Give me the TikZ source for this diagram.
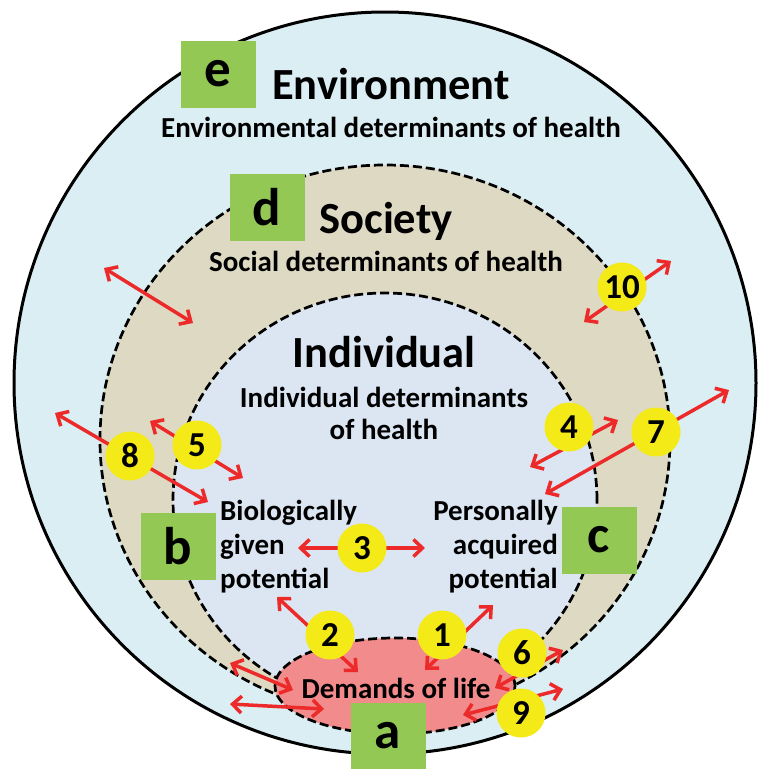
\documentclass[tikz,border=0pt]{standalone}
\usepackage{fontspec}
\setmainfont{Carlito}
\usetikzlibrary{arrows.meta,shapes.geometric}

\definecolor{envblue}{HTML}{DBEEF4}
\definecolor{socbeige}{HTML}{DDD9C3}
\definecolor{indblue}{HTML}{DCE6F2}
\definecolor{lifered}{HTML}{F28B8B}
\definecolor{boxgreen}{HTML}{92C853}
\definecolor{numyellow}{HTML}{F3EA18}
\definecolor{arrowred}{HTML}{EC2A2A}

\begin{document}
\begin{tikzpicture}[
		x=1pt, y=-1pt,
		ring/.style={draw, dash pattern=on 9pt off 4pt, line width=2.7pt, inner sep=0pt},
		letterbox/.style={fill=boxgreen, minimum width=75pt, minimum height=67pt, inner sep=0pt, font=\fontsize{53}{53}\selectfont\bfseries},
		title/.style={font=\fontsize{44.5}{50}\selectfont\bfseries},
		subtitle/.style={font=\fontsize{29}{32}\selectfont\bfseries},
		label/.style={font=\fontsize{29}{34}\selectfont\bfseries, inner sep=0pt},
		num/.style={circle, fill=numyellow, minimum size=49pt, inner sep=0pt, font=\fontsize{35}{35}\selectfont\bfseries},
		arrow/.style={{Straight Barb[length=9pt,width=17pt]}-{Straight Barb[length=9pt,width=17pt]}, draw=arrowred, line width=3.5pt},
	]
		\path[use as bounding box, fill=white] (0,0) rectangle (759,769);
		\clip (0,0) rectangle (759,769);

		% nested areas
		\node (env) [circle, draw, line width=3pt, fill=envblue, minimum size=742pt, inner sep=0pt] at (385,383) {};
		\node (soc) [ellipse, ring, fill=socbeige, minimum width=570pt, minimum height=550pt] at (385,440) {};
		\node (ind) [ellipse, ring, fill=indblue, minimum width=424pt, minimum height=414pt] at (385,500) {};
		\node (life) [ellipse, ring, fill=lifered, minimum width=240pt, minimum height=96pt] at (395,686) {};

		% titles
		\node (e) [letterbox] at (218,74) {e};
		\node (envt) [title] at (391,84) {Environment};
		\node (envs) [subtitle] at (391,127) {Environmental determinants of health};
		\node (d) [letterbox] at (267,207) {d};
		\node (soct) [title] at (386,221) {Society};
		\node (socs) [subtitle] at (386,261) {Social determinants of health};
		\node (indt) [title] at (384,352) {Individual};
		\node (inds) [subtitle, align=center] at (384,413) {Individual determinants\\of health};

		\node (b) [letterbox] at (178,546) {b};
		\node (c) [letterbox] at (599,540) {c};
		\node (a) [letterbox] at (388,736) {a};
		\node (bio) [label, align=left, anchor=west] at (220,547) {Biologically\\given\\potential};
		\node (pers) [label, align=right, anchor=east] at (558,547) {Personally\\acquired\\potential};
		\node (dem) [label] at (396,688) {Demands of life};

		% arrow ends
		\coordinate (tl1) at (104,268); \coordinate (tl2) at (193,323);
		\coordinate (s10) at (584,322); \coordinate (t10) at (671,261);
		\coordinate (s8) at (55,413);   \coordinate (t8) at (208,502);
		\coordinate (s5) at (150,421);  \coordinate (t5) at (243,478);
		\coordinate (s4) at (530,467);  \coordinate (t4) at (618,420);
		\coordinate (s7) at (545,494);  \coordinate (t7) at (729,390);
		\coordinate (s3) at (298,548);  \coordinate (t3) at (425,548);
		\coordinate (s2) at (277,597);  \coordinate (t2) at (358,672);
		\coordinate (s1) at (425,670);  \coordinate (t1) at (493,605);
		\coordinate (s6) at (495,688);  \coordinate (t6) at (563,650);
		\coordinate (s9) at (463,715);  \coordinate (t9) at (563,689);
		\coordinate (bl1) at (230,663); \coordinate (bl2) at (293,690);
		\coordinate (bl3) at (230,704); \coordinate (bl4) at (324,709);

		\draw[arrow] (tl1) -- (tl2);
		\draw[arrow] (s10) -- (t10);
		\draw[arrow] (s8) -- (t8);
		\draw[arrow] (s5) -- (t5);
		\draw[arrow] (s4) -- (t4);
		\draw[arrow] (s7) -- (t7);
		\draw[arrow] (s3) -- (t3);
		\draw[arrow] (s2) -- (t2);
		\draw[arrow] (s1) -- (t1);
		\draw[arrow] (s6) -- (t6);
		\draw[arrow] (s9) -- (t9);
		\draw[arrow] (bl1) -- (bl2);
		\draw[arrow] (bl3) -- (bl4);

		% numbers
		\node (n10) [num] at (622,287) {10};
		\node (n4) [num] at (569,427) {4};
		\node (n7) [num] at (656,432) {7};
		\node (n5) [num] at (197,445) {5};
		\node (n8) [num] at (130,456) {8};
		\node (n3) [num] at (362,548) {3};
		\node (n2) [num] at (330,635) {2};
		\node (n1) [num] at (442,635) {1};
		\node (n6) [num] at (522,653) {6};
		\node (n9) [num] at (521,713) {9};
	\end{tikzpicture}
\end{document}
